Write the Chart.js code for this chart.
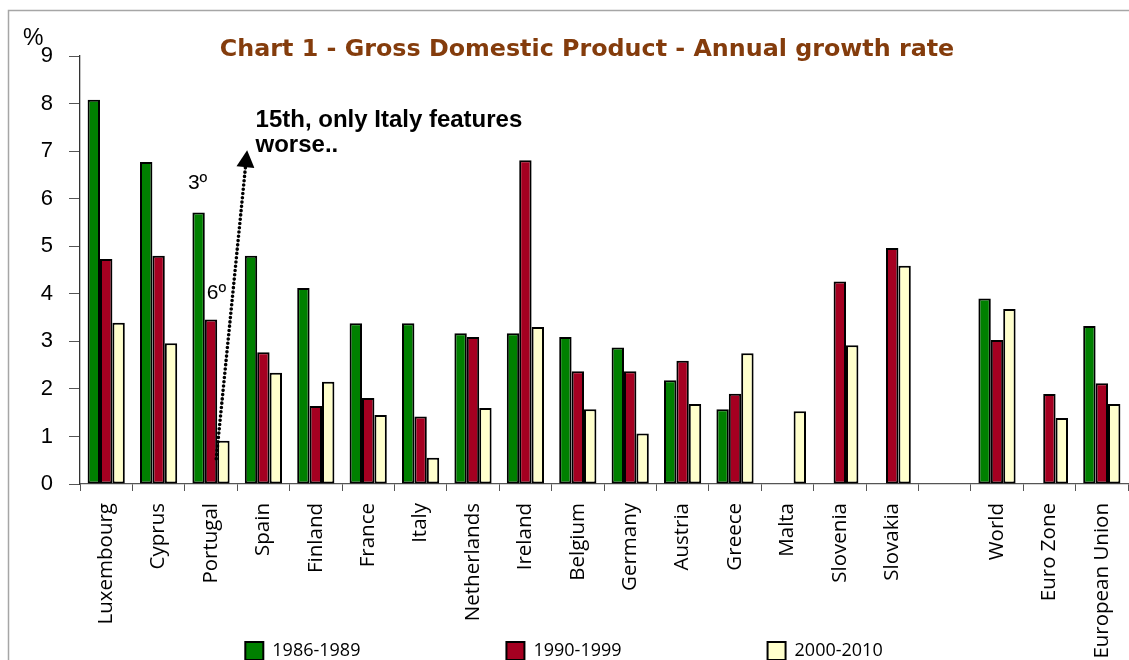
<!DOCTYPE html>
<html>
<head>
<meta charset="utf-8">
<script src="https://cdn.jsdelivr.net/npm/chart.js@4.4.1/dist/chart.umd.min.js"></script>
<style>
  html, body { margin: 0; padding: 0; background: #ffffff; overflow: hidden; }
  #wrap { width: 1129px; height: 660px; overflow: hidden; }
  canvas { display: block; }
</style>
</head>
<body>
<div id="wrap"><canvas id="c" width="1129" height="670"></canvas></div>
<script>
// ---- Data ----
const categories = ["Luxembourg", "Cyprus", "Portugal", "Spain", "Finland", "France", "Italy",
  "Netherlands", "Ireland", "Belgium", "Germany", "Austria", "Greece", "Malta", "Slovenia",
  "Slovakia", "", "World", "Euro Zone", "European Union"];
const seriesNames = ["1986-1989", "1990-1999", "2000-2010"];
const growth1986_1989 = [8.08, 6.77, 5.71, 4.80, 4.12, 3.38, 3.38, 3.17, 3.17, 3.09, 2.87, 2.18, 1.57,
  null, null, null, null, 3.90, null, 3.32];
const growth1990_1999 = [4.73, 4.80, 3.46, 2.77, 1.64, 1.81, 1.42, 3.09, 6.81, 2.37, 2.37, 2.59, 1.90,
  null, 4.26, 4.96, null, 3.03, 1.89, 2.12];
const growth2000_2010 = [3.39, 2.96, 0.91, 2.34, 2.15, 1.45, 0.55, 1.60, 3.30, 1.57, 1.06, 1.68, 2.75,
  1.53, 2.92, 4.59, null, 3.68, 1.39, 1.68];
const yMin = 0, yMax = 9, yStep = 1;
const chartTitle = "Chart 1 - Gross Domestic Product - Annual growth rate";
const yUnit = "%";
const noteLines = ["15th, only Italy features", "worse.."];
const rankLabels = ["3º", "6º"];

const seriesColors = ["#008000", "#A50021", "#FFFFCC"];

const extras = {
  id: 'extras',
  afterLayout(chart) {
    // let the rotated category labels extend below the (thin) axis box
    chart.scales.x.bottom = chart.height;
  },
  beforeDraw(chart) {
    const ctx = chart.ctx;
    ctx.save();
    ctx.fillStyle = '#ffffff';
    ctx.fillRect(0, 0, chart.width, chart.height);
    ctx.strokeStyle = '#a6a6a6';
    ctx.lineWidth = 1.5;
    ctx.beginPath();
    ctx.moveTo(8.5, chart.height + 10);
    ctx.lineTo(8.5, 10.5);
    ctx.lineTo(chart.width + 10, 10.5);
    ctx.stroke();
    ctx.restore();
  },
  afterDraw(chart) {
    const ctx = chart.ctx;
    const ca = chart.chartArea;
    const xs = chart.scales.x, ys = chart.scales.y;
    const cw = (ca.right - ca.left) / categories.length;
    const px = (i, f) => xs.getPixelForValue(i) + f * cw;
    ctx.save();
    // Title
    ctx.font = 'bold 23.8px "DejaVu Sans"';
    ctx.fillStyle = '#843C0C';
    ctx.textAlign = 'center';
    ctx.textBaseline = 'alphabetic';
    ctx.fillText(chartTitle, (ca.left + ca.right) / 2 - 17, ca.top);
    // % unit
    ctx.font = '23px "Liberation Sans"';
    ctx.fillStyle = '#000';
    ctx.textAlign = 'left';
    ctx.fillText(yUnit, ca.left - 57, ys.getPixelForValue(yMax) - 11);
    // Annotation note
    const iPt = categories.indexOf("Portugal");
    const iSp = categories.indexOf("Spain");
    ctx.font = 'bold 24px "Liberation Sans"';
    ctx.fillText(noteLines[0], px(iSp, -0.15), ys.getPixelForValue(7.5));
    ctx.fillText(noteLines[1], px(iSp, -0.15), ys.getPixelForValue(6.98));
    // rank labels
    ctx.font = '21px "Liberation Sans"';
    ctx.fillText(rankLabels[0], px(iPt, -0.44), ys.getPixelForValue(6.2));
    ctx.fillText(rankLabels[1], px(iPt, -0.08), ys.getPixelForValue(3.89));
    // dotted arrow
    const x0 = px(iPt, 0.1), y0 = ys.getPixelForValue(0.53);
    const x1 = px(iSp, -0.31), y1 = ys.getPixelForValue(7.02);
    const ang = Math.atan2(y1 - y0, x1 - x0);
    const headLen = 17, headHalf = 9;
    const bx = x1 - headLen * Math.cos(ang), by = y1 - headLen * Math.sin(ang);
    ctx.strokeStyle = '#000';
    ctx.lineWidth = 3.6;
    ctx.lineCap = 'round';
    ctx.setLineDash([0, 4.3]);
    ctx.beginPath();
    ctx.moveTo(x0, y0);
    ctx.lineTo(bx, by);
    ctx.stroke();
    ctx.setLineDash([]);
    ctx.fillStyle = '#000';
    ctx.beginPath();
    ctx.moveTo(x1, y1);
    ctx.lineTo(bx + headHalf * Math.sin(ang), by - headHalf * Math.cos(ang));
    ctx.lineTo(bx - headHalf * Math.sin(ang), by + headHalf * Math.cos(ang));
    ctx.closePath();
    ctx.fill();
    ctx.restore();
  }
};

const mk = (label, data, color) => ({
  label, data,
  backgroundColor: color,
  borderColor: '#000000',
  borderWidth: 2,
  borderSkipped: false,
  categoryPercentage: 0.71,
  barPercentage: 1.0
});

new Chart(document.getElementById('c'), {
  type: 'bar',
  data: {
    labels: categories,
    datasets: [
      mk(seriesNames[0], growth1986_1989, seriesColors[0]),
      mk(seriesNames[1], growth1990_1999, seriesColors[1]),
      mk(seriesNames[2], growth2000_2010, seriesColors[2])
    ]
  },
  options: {
    responsive: false,
    animation: false,
    devicePixelRatio: 1,
    layout: { padding: { top: 56, right: 1, left: 0, bottom: 0 } },
    plugins: {
      title: { display: false },
      tooltip: { enabled: false },
      legend: {
        position: 'bottom',
        labels: {
          boxWidth: 18,
          boxHeight: 18,
          padding: 146,
          color: '#000',
          font: { family: '"Open Sans"', size: 18 }
        }
      }
    },
    scales: {
      x: {
        grid: { drawOnChartArea: false, drawTicks: true, tickLength: 7, color: '#555', offset: true },
        border: { display: true, color: '#555', width: 1.3 },
        ticks: {
          autoSkip: false, maxRotation: 90, minRotation: 90, padding: 12,
          color: '#000', font: { family: '"Open Sans"', size: 20.5 }
        },
        afterFit(scale) { scale.height = 12; scale.paddingLeft = 0; scale.paddingRight = 0; }
      },
      y: {
        min: yMin, max: yMax,
        grid: { drawOnChartArea: false, drawTicks: true, tickLength: 11, color: '#555' },
        border: { display: true, color: '#333', width: 1.3 },
        ticks: {
          stepSize: yStep, padding: 16, color: '#000',
          font: { family: '"Liberation Sans"', size: 22 }
        },
        afterFit(scale) { scale.width = 80; }
      }
    }
  },
  plugins: [extras]
});
</script>
</body>
</html>
